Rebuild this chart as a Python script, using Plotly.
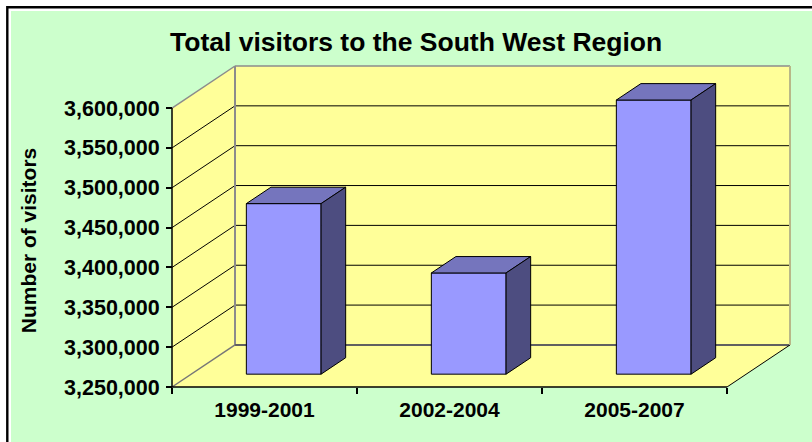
import plotly.graph_objects as go

# ---------------- data ----------------
categories = ["1999-2001", "2002-2004", "2005-2007"]
visitors = [3464000, 3377000, 3594000]
y_tick_values = [3250000, 3300000, 3350000, 3400000, 3450000, 3500000, 3550000, 3600000]
title_text = "Total visitors to the South West Region"
y_title_text = "Number of visitors"

# ---------------- geometry / style ----------------
W, H = 812, 442
FONT = "Liberation Sans, Arial, sans-serif"
GREEN = "#CCFFCC"
YELLOW = "#FFFF99"
BAR_FRONT = "#9999FF"
BAR_TOP = "#7575BD"
BAR_SIDE = "#4D4D80"

n = len(categories)
Y0, Y1 = y_tick_values[0], y_tick_values[-1]
X0, X1 = -0.5, n - 0.5

CAT_PX = 185.0                    # pixels per category on the front plane
UNIT_PX = 278.5 / (Y1 - Y0)       # pixels per visitor
DX = 63 / CAT_PX                  # depth offset (category units)
DY = 42 / UNIT_PX                 # depth offset (value units)
PAD = 3                           # pixel padding around the 3-D box
D1, D2 = 0.305, 0.695             # bar depth (front / back)
HW = 0.202                        # bar half width (category units)

x_range = [X0 - PAD / CAT_PX, X1 + DX + PAD / CAT_PX]
y_range = [Y0 - PAD / UNIT_PX, Y1 + DY + PAD / UNIT_PX]
plot_w = (x_range[1] - x_range[0]) * CAT_PX
plot_h = (y_range[1] - y_range[0]) * UNIT_PX
ML = 169
MT = 63
MB = H - MT - plot_h
MR = W - ML - plot_w


def px2paper(px, py):
    return (px - ML) / plot_w, (H - MB - py) / plot_h


def P(x, y, d):
    return x + d * DX, y + d * DY


fig = go.Figure()


def poly(pts, fill, line_color="rgba(0,0,0,0)", width=0.0, xaxis="x"):
    xs = [p[0] for p in pts] + [pts[0][0]]
    ys = [p[1] for p in pts] + [pts[0][1]]
    fig.add_trace(go.Scatter(x=xs, y=ys, mode="lines", fill="toself", fillcolor=fill,
                             line=dict(color=line_color, width=width),
                             hoverinfo="skip", showlegend=False, xaxis=xaxis))


def seg(a, b, color, width=1.0, xaxis="x"):
    fig.add_trace(go.Scatter(x=[a[0], b[0]], y=[a[1], b[1]], mode="lines",
                             line=dict(color=color, width=width),
                             hoverinfo="skip", showlegend=False, xaxis=xaxis))


# walls and floor
poly([P(X0, Y0, 1), P(X1, Y0, 1), P(X1, Y1, 1), P(X0, Y1, 1)], YELLOW)
poly([P(X0, Y0, 0), P(X0, Y1, 0), P(X0, Y1, 1), P(X0, Y0, 1)], YELLOW)
poly([P(X0, Y0, 0), P(X1, Y0, 0), P(X1, Y0, 1), P(X0, Y0, 1)], YELLOW)

# gridlines (back wall + side wall)
for v in y_tick_values[1:-1]:
    seg(P(X0, v, 1), P(X1, v, 1), "#000000", 1.0)
    seg(P(X0, v, 0), P(X0, v, 1), "#000000", 1.0)

# wall edges
seg(P(X0, Y1, 1), P(X1, Y1, 1), "#8C8C8C", 1.5)
seg(P(X0, Y1, 0), P(X0, Y1, 1), "#8C8C8C", 1.5)
seg(P(X0, Y0, 1), P(X0, Y1, 1), "#8C8C8C", 2.0)
seg(P(X0, Y0, 1), P(X1, Y0, 1), "#606060", 2.0)
seg(P(X0, Y0, 0), P(X0, Y0, 1), "#777777", 1.5)
seg(P(X1, Y0, 0), P(X1, Y0, 1), "#000000", 1.0)
seg(P(X1, Y0, 1), P(X1, Y1, 1), "#B8B888", 2.0)

# bars
for i, v in enumerate(visitors):
    xl, xr = i - HW, i + HW
    poly([P(xl, Y0, D1), P(xr, Y0, D1), P(xr, v, D1), P(xl, v, D1)], BAR_FRONT, "#000000", 1.0)
    poly([P(xl, v, D1), P(xr, v, D1), P(xr, v, D2), P(xl, v, D2)], BAR_TOP, "#000000", 1.0)
    poly([P(xr, Y0, D1), P(xr, Y0, D2), P(xr, v, D2), P(xr, v, D1)], BAR_SIDE, "#000000", 1.0)

# front axis lines
seg(P(X0, Y0, 0), P(X0, Y1, 0), "#000000", 1.5)
seg(P(X0, Y0, 0), P(X1, Y0, 0), "#000000", 1.5, xaxis="x2")

# ---------------- decorations ----------------
gx0, gy0 = px2paper(11, 11)
gx1, gy1 = px2paper(840, 470)
bx0, by0 = px2paper(7.3, 7.3)
shapes = [
    dict(type="rect", xref="paper", yref="paper", x0=gx0, y0=gy0, x1=gx1, y1=gy1,
         fillcolor=GREEN, line=dict(width=0), layer="below"),
    dict(type="rect", xref="paper", yref="paper", x0=bx0, y0=by0, x1=gx1, y1=gy1,
         fillcolor="rgba(0,0,0,0)", line=dict(color="#000000", width=2.4), layer="below"),
]

tx, ty = px2paper(416, 42)
yx, yy = px2paper(28, 240)
annotations = [
    dict(text=title_text, xref="paper", yref="paper", x=tx, y=ty, xanchor="center",
         yanchor="middle", showarrow=False,
         font=dict(family=FONT, size=26.5, color="#000000", weight="bold")),
    dict(text=y_title_text, xref="paper", yref="paper", x=yx, y=yy, xanchor="center",
         yanchor="middle", textangle=-90, showarrow=False,
         font=dict(family=FONT, size=21, color="#000000", weight="bold")),
]

fig.update_layout(
    width=W, height=H,
    margin=dict(l=ML, r=MR, t=MT, b=MB, pad=0),
    paper_bgcolor="#FFFFFF",
    plot_bgcolor="rgba(0,0,0,0)",
    showlegend=False,
    hovermode=False,
    shapes=shapes,
    annotations=annotations,
    xaxis=dict(range=x_range, anchor="free", position=PAD / plot_h,
               tickmode="array", tickvals=list(range(n)), ticktext=categories,
               ticks="outside", ticklen=6, tickcolor="rgba(0,0,0,0)",
               ticklabelstandoff=-2,
               showgrid=False, zeroline=False, showline=False,
               tickfont=dict(family=FONT, size=21, color="#000000", weight="bold")),
    xaxis2=dict(range=x_range, overlaying="x", anchor="free", position=PAD / plot_h,
                side="bottom", tickmode="array",
                tickvals=[X0 + k for k in range(n + 1)],
                ticks="outside", ticklen=6, tickwidth=1.5, tickcolor="#000000",
                showticklabels=False, showgrid=False, zeroline=False, showline=False),
    yaxis=dict(range=y_range, anchor="free", position=PAD / plot_w,
               tickmode="array", tickvals=y_tick_values, tickformat=",d",
               ticks="outside", ticklen=6, tickwidth=1.5, tickcolor="#000000",
               ticklabelstandoff=2,
               showgrid=False, zeroline=False, showline=False,
               tickfont=dict(family=FONT, size=21.5, color="#000000", weight="bold")),
)

fig.write_html("out.html", config={"displayModeBar": False},
               post_script="document.body.style.margin='0';")
